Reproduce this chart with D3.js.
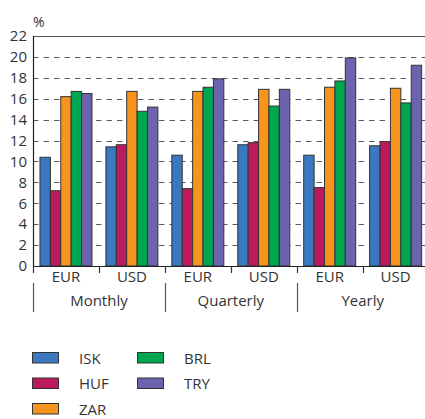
<!DOCTYPE html>
<html>
<head>
<meta charset="utf-8">
<script src="https://cdn.jsdelivr.net/npm/d3@7"></script>
<style>
  html, body { margin: 0; padding: 0; background: #fff; }
  svg { display: block; }
  text { font-family: "Open Sans", "Noto Sans", sans-serif; fill: #333; }
</style>
</head>
<body>
<svg id="chart" width="425" height="419"></svg>
<script>
// Horizon and currency of each bar group
const periods = ["Monthly", "Quarterly", "Yearly"];
const currencies = ["EUR", "USD"];

// Currencies plotted as bars within every group
const seriesNames = ["ISK", "HUF", "ZAR", "BRL", "TRY"];
const seriesColors = ["#3b78bf", "#bd1a5d", "#f7941e", "#00a54f", "#6b63ab"];

// Values (%), one per group: Monthly EUR, Monthly USD, Quarterly EUR, Quarterly USD, Yearly EUR, Yearly USD
const iskValues = [10.4, 11.4, 10.6, 11.6, 10.6, 11.5];
const hufValues = [7.2, 11.6, 7.4, 11.8, 7.5, 11.9];
const zarValues = [16.2, 16.7, 16.7, 16.9, 17.1, 17.0];
const brlValues = [16.7, 14.8, 17.1, 15.3, 17.7, 15.6];
const tryValues = [16.5, 15.2, 17.9, 16.9, 19.9, 19.2];

const yTicks = [0, 2, 4, 6, 8, 10, 12, 14, 16, 18, 20, 22];

const seriesValues = [iskValues, hufValues, zarValues, brlValues, tryValues];
const groups = [];
periods.forEach(p => currencies.forEach(c => groups.push({ period: p, currency: c, key: p + "-" + c })));

const svg = d3.select("#chart");
const plotLeft = 33, plotRight = 428.6, plotTop = 36, plotBottom = 266;

const x0 = d3.scaleBand().domain(groups.map(g => g.key)).range([plotLeft, plotRight]).padding(0);
const x1 = d3.scaleBand().domain(seriesNames).range([0, x0.bandwidth()]).paddingInner(0).paddingOuter(0.67);
const xp = d3.scaleBand().domain(periods).range([plotLeft, plotRight]).padding(0);
const y = d3.scaleLinear().domain([0, 22]).range([plotBottom, plotTop]);
const color = d3.scaleOrdinal().domain(seriesNames).range(seriesColors);

// Dashed gridlines
svg.append("g")
  .selectAll("line")
  .data(yTicks.filter(t => t > 0 && t < 22))
  .join("line")
  .attr("x1", plotLeft).attr("x2", plotRight)
  .attr("y1", d => Math.round(y(d)) + 0.5).attr("y2", d => Math.round(y(d)) + 0.5)
  .attr("stroke", "#5a5a5a")
  .attr("stroke-width", 1.2)
  .attr("stroke-dasharray", "5.5,5");

// Top frame line
svg.append("line")
  .attr("x1", plotLeft).attr("x2", plotRight)
  .attr("y1", Math.round(y(22)) + 0.5).attr("y2", Math.round(y(22)) + 0.5)
  .attr("stroke", "#555").attr("stroke-width", 1.2);

// Bars
const barGroups = svg.append("g")
  .selectAll("g")
  .data(groups)
  .join("g")
  .attr("transform", g => `translate(${x0(g.key)},0)`);

barGroups.selectAll("rect")
  .data((g, i) => seriesNames.map((s, j) => ({ series: s, value: seriesValues[j][i] })))
  .join("rect")
  .attr("x", d => x1(d.series))
  .attr("width", x1.bandwidth())
  .attr("y", d => y(d.value))
  .attr("height", d => y(0) - y(d.value))
  .attr("fill", d => color(d.series))
  .attr("stroke", "#333")
  .attr("stroke-width", 1);

// Y axis
const yAxis = d3.axisLeft(y).tickValues(yTicks).tickSize(0).tickPadding(6);
const yg = svg.append("g").attr("transform", `translate(${plotLeft},0)`).call(yAxis);
yg.select(".domain").remove();
yg.selectAll("text").style("font-size", "15px").style("fill", "#333");
svg.append("line")
  .attr("x1", plotLeft + 0.5).attr("x2", plotLeft + 0.5)
  .attr("y1", plotTop).attr("y2", plotBottom)
  .attr("stroke", "#222").attr("stroke-width", 1.2);

// Unit label
svg.append("text")
  .attr("x", plotLeft).attr("y", 27)
  .style("font-size", "14px")
  .text("%");

// X axis baseline with currency labels
const xAxis = d3.axisBottom(x0)
  .tickSize(0)
  .tickPadding(5)
  .tickFormat(k => k.split("-")[1]);
const xg = svg.append("g").attr("transform", `translate(0,${plotBottom})`).call(xAxis);
xg.select(".domain").attr("stroke", "#222").attr("stroke-width", 1.2)
  .attr("d", `M${plotLeft},0.5H${plotRight}`);
xg.selectAll("text").style("font-size", "15px").style("fill", "#333");

// Group boundary ticks
const bounds = groups.map(g => x0(g.key)).concat([plotRight]);
svg.append("g").selectAll("line")
  .data(bounds)
  .join("line")
  .attr("x1", d => Math.round(d) + 0.5).attr("x2", d => Math.round(d) + 0.5)
  .attr("y1", plotBottom).attr("y2", plotBottom + 7)
  .attr("stroke", "#333").attr("stroke-width", 1.2);

// Period labels and separators
const periodBounds = periods.map(p => xp(p)).concat([plotRight]);
svg.append("g").selectAll("line")
  .data(periodBounds)
  .join("line")
  .attr("x1", d => Math.round(d) + 0.5).attr("x2", d => Math.round(d) + 0.5)
  .attr("y1", plotBottom + 17).attr("y2", plotBottom + 46)
  .attr("stroke", "#555").attr("stroke-width", 1.2);

svg.append("g").selectAll("text")
  .data(periods)
  .join("text")
  .attr("x", p => xp(p) + xp.bandwidth() / 2)
  .attr("y", plotBottom + 40)
  .attr("text-anchor", "middle")
  .style("font-size", "15px")
  .text(p => p);

// Legend, filled column by column in three rows
const legend = svg.append("g")
  .selectAll("g")
  .data(seriesNames)
  .join("g")
  .attr("transform", (s, i) => `translate(${32 + Math.floor(i / 3) * 105},${352 + (i % 3) * 25.5})`);
legend.append("rect")
  .attr("x", 0.5).attr("y", 0.5)
  .attr("width", 26).attr("height", 10.5)
  .attr("fill", s => color(s))
  .attr("stroke", "#333").attr("stroke-width", 1);
legend.append("text")
  .attr("x", 47).attr("y", 11.5)
  .style("font-size", "15px")
  .text(s => s);
</script>
</body>
</html>
